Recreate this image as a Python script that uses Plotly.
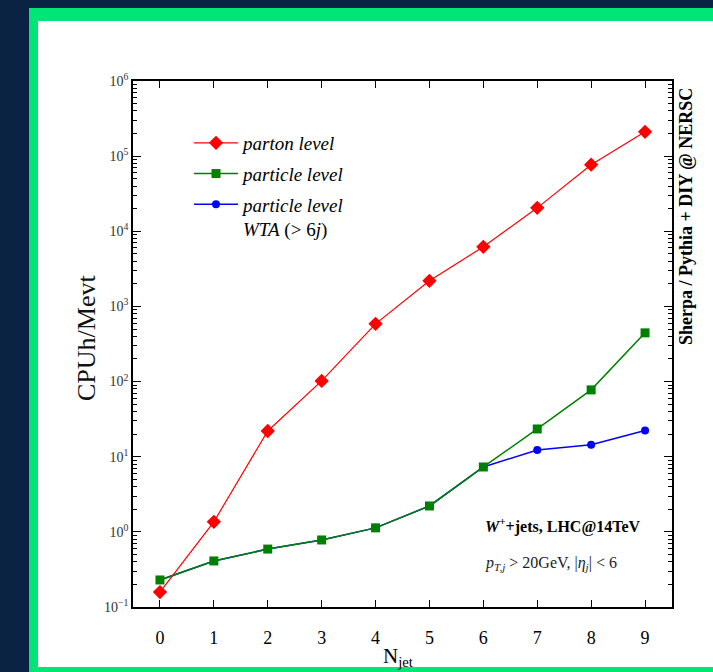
import plotly.graph_objects as go

n_jet = [0, 1, 2, 3, 4, 5, 6, 7, 8, 9]
parton_level = [0.158, 1.36, 22, 102, 586, 2190, 6220, 20500, 76900, 211000]
particle_level = [0.229, 0.41, 0.59, 0.78, 1.13, 2.21, 7.3, 23.4, 77.5, 445]
particle_wta = [0.229, 0.41, 0.59, 0.78, 1.13, 2.21, 7.3, 12.3, 14.4, 22.3]
y_tick_vals = [0.1, 1, 10, 100, 1000, 10000, 100000, 1000000]
y_tick_text = ["10<sup>−1</sup>", "10<sup>0</sup>", "10<sup>1</sup>", "10<sup>2</sup>",
               "10<sup>3</sup>", "10<sup>4</sup>", "10<sup>5</sup>", "10<sup>6</sup>"]

FONT = "Liberation Serif, Times New Roman, serif"
NAVY = "#0b2342"
GREEN = "#00e676"

fig = go.Figure()
fig.add_trace(go.Scatter(
    x=n_jet, y=particle_wta, mode="lines+markers",
    name="<i>particle level</i><br><i>WTA</i> (&gt; 6<i>j</i>)",
    line=dict(color="#0000ff", width=1.5),
    marker=dict(symbol="circle", size=8, color="#0000ff"),
    legendrank=3, legendgroup="c"))
fig.add_trace(go.Scatter(
    x=n_jet, y=particle_level, mode="lines+markers",
    name="<i>particle level</i>",
    line=dict(color="#008000", width=1.5),
    marker=dict(symbol="square", size=9, color="#008000"),
    legendrank=2, legendgroup="b"))
fig.add_trace(go.Scatter(
    x=n_jet, y=parton_level, mode="lines+markers",
    name="<i>parton level</i>",
    line=dict(color="#ff0000", width=1.2),
    marker=dict(symbol="diamond", size=11, color="#ff0000"),
    legendrank=1, legendgroup="a"))

L, R, T, B = 133, 41, 81, 65
W, H = 713, 672
PW, PH = W - L - R, H - T - B

shapes = [
    dict(type="rect", layer="below", xref="paper", yref="paper",
         xsizemode="pixel", ysizemode="pixel", xanchor=0, yanchor=0,
         x0=29 - L, x1=W - L + 20, y0=(H - B) - (H + 20), y1=(H - B) - 8,
         fillcolor=GREEN, line=dict(width=0)),
    dict(type="rect", layer="below", xref="paper", yref="paper",
         xsizemode="pixel", ysizemode="pixel", xanchor=0, yanchor=0,
         x0=38 - L, x1=W - L + 20, y0=(H - B) - 667, y1=(H - B) - 21,
         fillcolor="white", line=dict(width=0)),
]

annotations = [
    dict(text="CPUh/Mevt", xref="paper", yref="paper",
         x=(86 - L) / PW, y=(H - B - 338) / PH,
         textangle=-90, showarrow=False, font=dict(family=FONT, size=26, color="#111"),
         xanchor="center", yanchor="middle"),
    dict(text="N<sub>jet</sub>", xref="paper", yref="paper",
         x=(398 - L) / PW, y=(H - B - 657) / PH,
         showarrow=False, font=dict(family=FONT, size=21, color="black"),
         xanchor="center", yanchor="middle"),
    dict(text="<b>Sherpa / Pythia + DIY @ NERSC</b>", xref="paper", yref="paper",
         x=(686 - L) / PW, y=(H - B - 217) / PH,
         textangle=-90, showarrow=False, font=dict(family=FONT, size=18, color="black"),
         xanchor="center", yanchor="middle"),
    dict(text="<b><i>W</i><sup>+</sup>+jets, LHC@14TeV</b>", xref="paper", yref="paper",
         x=(483 - L) / PW, y=(H - B - 525) / PH,
         showarrow=False, font=dict(family=FONT, size=16, color="black"),
         xanchor="left", yanchor="middle"),
    dict(text="<i>p</i><sub><i>T,j</i></sub> &gt; 20GeV, |<i>η</i><sub><i>j</i></sub>| &lt; 6",
         xref="paper", yref="paper",
         x=(483 - L) / PW, y=(H - B - 563) / PH,
         showarrow=False, font=dict(family=FONT, size=16, color="#222"),
         xanchor="left", yanchor="middle"),
]

fig.update_layout(
    width=W, height=H,
    margin=dict(l=L, r=R, t=T, b=B, autoexpand=False),
    paper_bgcolor=NAVY, plot_bgcolor="white",
    font=dict(family=FONT, color="black"),
    shapes=shapes, annotations=annotations,
    showlegend=True,
    legend=dict(x=(189 - L) / PW, y=(H - B - 124) / PH,
                xanchor="left", yanchor="top", bgcolor="rgba(0,0,0,0)",
                font=dict(family=FONT, size=19, color="black"),
                itemwidth=44, valign="top", tracegroupgap=3),
)

fig.update_xaxes(
    range=[-0.5, 9.5], tickvals=n_jet, ticktext=[str(v) for v in n_jet],
    ticks="inside", ticklen=7, tickwidth=1, tickcolor="black",
    showline=True, linecolor="black", linewidth=1.5, mirror="allticks",
    showgrid=False, zeroline=False, ticklabelstandoff=14,
    tickfont=dict(family=FONT, size=18, color="black"),
)
fig.update_yaxes(
    type="log", range=[-1, 6], tickvals=y_tick_vals, ticktext=y_tick_text,
    ticks="inside", ticklen=8, tickwidth=1, tickcolor="black",
    showline=True, linecolor="black", linewidth=1.5, mirror="allticks",
    showgrid=False, zeroline=False,
    minor=dict(ticks="inside", ticklen=4, tickcolor="black", tickwidth=1, showgrid=False, dtick="D1"),
    tickfont=dict(family=FONT, size=14, color="#333"),
)

fig.write_html(
    "out.html",
    config={"displayModeBar": False},
    post_script="document.body.style.margin='0';document.body.style.background='" + NAVY + "';",
)
